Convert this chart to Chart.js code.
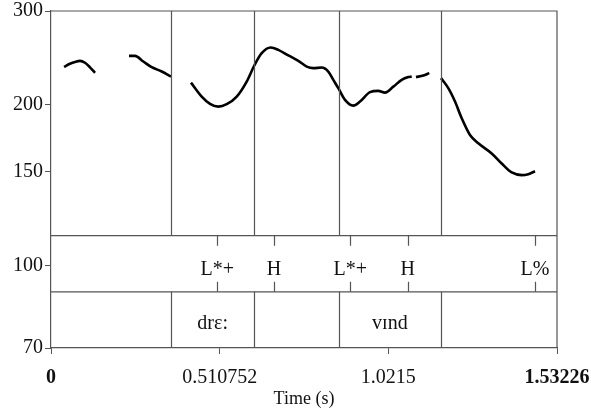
<!DOCTYPE html>
<html>
<head>
<meta charset="utf-8">
<script src="https://cdn.jsdelivr.net/npm/chart.js@4/dist/chart.umd.min.js"></script>
<style>
html,body{margin:0;padding:0;background:#fff;}
#wrap{width:591px;height:414px;}
</style>
</head>
<body>
<div id="wrap"><canvas id="c" width="591" height="414"></canvas></div>
<script>
// ---- data ----
const xMax = 1.53226;
const xTickValues = [0, 0.510752, 1.0215, 1.53226];
const yTickValues = [70, 100, 150, 200, 300];
// pitch contour (s, Hz); null marks an unvoiced gap
const pitchTime = [0.0394,0.0575,0.0727,0.0878,0.1030,0.1181,0.1332, 0.18,
  0.2362,0.2544,0.2795,0.3049,0.3352,0.3634, 0.39,
  0.4239,0.4564,0.4815,0.5066,0.5321,0.5624,0.5926,0.6156,0.6380,0.6653,0.6883,0.7186,0.7489,0.7743,0.7943,0.8197,0.8397,0.8549,0.8700,0.8903,0.9154,0.9357,0.9660,0.9911,1.0114,1.0366,1.0620,1.0820,1.0923, 1.098,
  1.1053,1.1274,1.1456, 1.16,
  1.1810,1.2031,1.2234,1.2437,1.2688,1.2940,1.3345,1.3648,1.3951,1.4254,1.4454,1.4657];
const pitchHz = [235.7,238.9,240.8,241.9,239.9,235.2,229.7, null,
  247.2,247.2,241.2,235.4,231.0,226.0, null,
  220.2,207.3,200.9,198.5,200.6,207.3,221.2,237.1,250.1,256.3,253.7,247.6,241.9,236.0,234.4,235.0,231.0,222.8,215.0,204.4,199.4,202.9,211.3,212.5,210.9,216.4,222.8,225.5,226.0, null,
  225.5,227.0,229.4, null,
  224.5,215.0,202.9,188.8,175.6,169.4,162.2,155.3,149.4,147.7,148.3,150.2];
// tier 1: tones (points)
const toneTimes = [0.5036, 0.6753, 0.9064, 1.0801, 1.4657];
const toneLabels = ["L*+", "H", "L*+", "H", "L%"];
// tier 2: words (interval boundaries and labels)
const wordBoundaries = [0.3634, 0.6156, 0.8712, 1.1810];
const wordLabels = ["", "drɛ:", "", "vɪnd", ""];
const xTitle = "Time (s)";

const FONT = "'Liberation Serif', 'Times New Roman', serif";
const LINE = '#555';

const tierPlugin = {
  id: 'tiers',
  afterDraw(chart) {
    const {ctx, chartArea: a, scales: {x}} = chart;
    const h = a.bottom - a.top;
    const y1 = a.top + h * 2 / 3;
    const y2 = a.top + h * 5 / 6;
    ctx.save();
    ctx.strokeStyle = LINE;
    ctx.lineWidth = 1.2;
    ctx.beginPath();
    ctx.moveTo(a.left, a.top); ctx.lineTo(a.right, a.top); ctx.lineTo(a.right, a.bottom);
    ctx.moveTo(a.left, y1); ctx.lineTo(a.right, y1);
    ctx.moveTo(a.left, y2); ctx.lineTo(a.right, y2);
    ctx.stroke();
    ctx.beginPath();
    wordBoundaries.forEach(t => {
      const px = Math.round(x.getPixelForValue(t)) + 0.5;
      ctx.moveTo(px, a.top); ctx.lineTo(px, y1);
      ctx.moveTo(px, y2); ctx.lineTo(px, a.bottom);
    });
    toneTimes.forEach(t => {
      const px = Math.round(x.getPixelForValue(t)) + 0.5;
      ctx.moveTo(px, y1); ctx.lineTo(px, y1 + 10);
      ctx.moveTo(px, y2 - 10); ctx.lineTo(px, y2);
    });
    ctx.stroke();
    ctx.fillStyle = '#111';
    ctx.font = "20px " + FONT;
    ctx.textAlign = 'center';
    ctx.textBaseline = 'middle';
    toneTimes.forEach((t, i) => {
      ctx.fillText(toneLabels[i], x.getPixelForValue(t), (y1 + y2) / 2 + 6);
    });
    const edges = [0, ...wordBoundaries, xMax];
    wordLabels.forEach((lab, i) => {
      if (!lab) return;
      const cx = (x.getPixelForValue(edges[i]) + x.getPixelForValue(edges[i + 1])) / 2;
      ctx.fillText(lab, cx, (y2 + a.bottom) / 2 + 4);
    });
    ctx.restore();
  }
};

new Chart(document.getElementById('c'), {
  type: 'line',
  data: {
    datasets: [{
      data: pitchTime.map((t, i) => ({x: t, y: pitchHz[i]})),
      borderColor: '#000',
      borderWidth: 2.6,
      pointRadius: 0,
      fill: false,
      spanGaps: false,
      cubicInterpolationMode: 'monotone'
    }]
  },
  options: {
    responsive: false,
    animation: false,
    devicePixelRatio: 1,
    layout: {padding: {top: 11, right: 34, left: 0, bottom: 0}},
    plugins: {legend: {display: false}, tooltip: {enabled: false}},
    scales: {
      x: {
        type: 'linear', min: 0, max: xMax,
        afterBuildTicks: s => { s.ticks = xTickValues.map(v => ({value: v})); },
        afterFit: s => { s.height = 66; s.paddingLeft = 0; s.paddingRight = 0; },
        grid: {drawOnChartArea: false, drawTicks: true, tickLength: 6, color: LINE},
        border: {display: true, color: LINE, width: 1.2},
        ticks: {
          color: '#111', padding: 12, maxRotation: 0, autoSkip: false,
          font: c => ({family: FONT, size: 20, weight: (c.index === 0 || c.index === xTickValues.length - 1) ? 'bold' : 'normal'}),
          callback: v => String(v)
        },
        title: {display: true, text: xTitle, color: '#111', font: {family: FONT, size: 18}, padding: {top: 0, bottom: 4}}
      },
      y: {
        type: 'logarithmic', min: 70, max: 300,
        afterBuildTicks: s => { s.ticks = yTickValues.map(v => ({value: v})); },
        afterFit: s => { s.width = 51; s.paddingTop = 0; s.paddingBottom = 0; },
        grid: {drawOnChartArea: false, drawTicks: true, tickLength: 6, color: LINE},
        border: {display: true, color: LINE, width: 1.2},
        ticks: {
          color: '#111', padding: 2, autoSkip: false,
          font: {family: FONT, size: 20},
          callback: v => String(v)
        }
      }
    }
  },
  plugins: [tierPlugin]
});
</script>
</body>
</html>
